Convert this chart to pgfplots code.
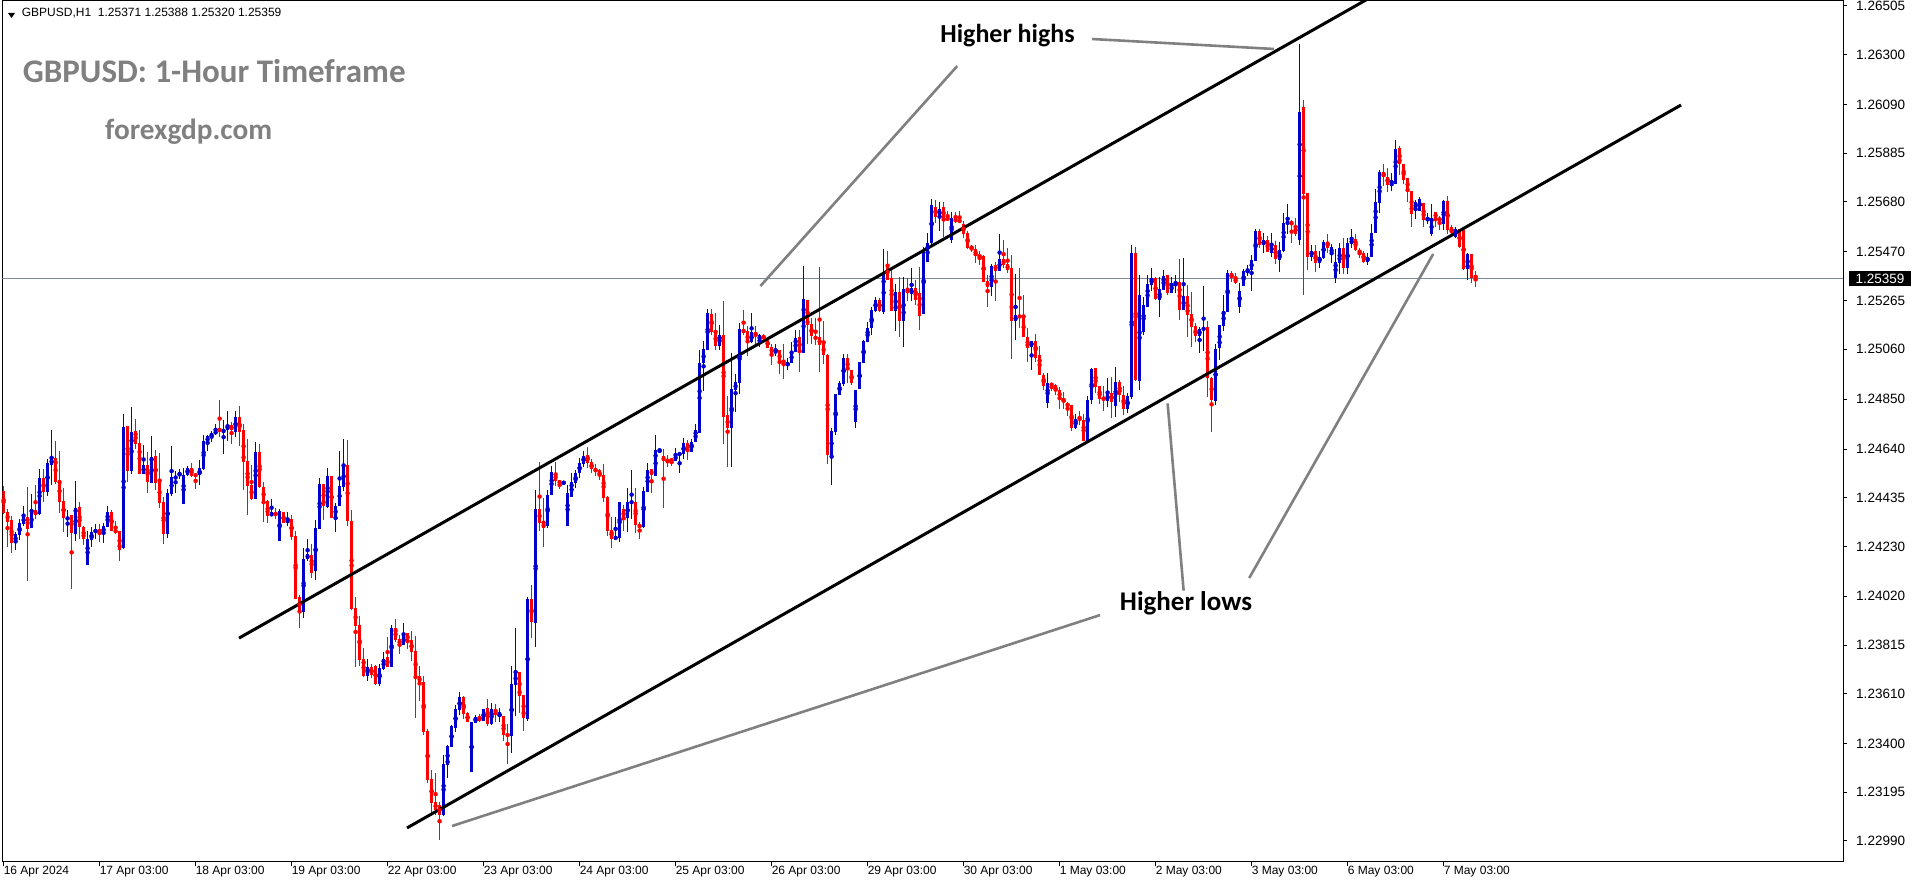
\documentclass[border=0pt]{standalone}
\usepackage{pgfplots}
\usepackage{pgfplotstable}
\pgfplotsset{compat=1.18}
\usepackage{fontspec}
\setmainfont{Liberation Sans}
\newfontfamily\carlito{Carlito}
\definecolor{cbull}{HTML}{0000CD}
\definecolor{cbear}{HTML}{FF0000}
\definecolor{annot}{HTML}{808080}
\definecolor{pline}{HTML}{7B8A9A}
\pgfplotstableread{
i o h l c
0 1.24463 1.24484 1.24368 1.24372
1 1.24374 1.24386 1.24229 1.24334
2 1.24341 1.24358 1.24203 1.24245
3 1.24245 1.24290 1.24214 1.24282
4 1.24279 1.24344 1.24257 1.24327
5 1.24324 1.24404 1.24320 1.24360
6 1.24355 1.24481 1.24084 1.24304
7 1.24308 1.24450 1.24308 1.24379
8 1.24383 1.24488 1.24345 1.24362
9 1.24366 1.24555 1.24362 1.24517
10 1.24517 1.24555 1.24417 1.24459
11 1.24460 1.24599 1.24442 1.24581
12 1.24572 1.24720 1.24488 1.24606
13 1.24602 1.24673 1.24495 1.24503
14 1.24509 1.24631 1.24369 1.24418
15 1.24421 1.24475 1.24290 1.24351
16 1.24346 1.24383 1.24271 1.24353
17 1.24362 1.24362 1.24050 1.24287
18 1.24282 1.24509 1.24254 1.24391
19 1.24395 1.24417 1.24262 1.24311
20 1.24315 1.24315 1.24237 1.24262
21 1.24151 1.24294 1.24151 1.24261
22 1.24259 1.24313 1.24229 1.24294
23 1.24290 1.24327 1.24262 1.24303
24 1.24303 1.24324 1.24248 1.24290
25 1.24287 1.24332 1.24245 1.24315
26 1.24311 1.24400 1.24311 1.24374
27 1.24374 1.24383 1.24294 1.24294
28 1.24299 1.24337 1.24282 1.24290
29 1.24294 1.24294 1.24170 1.24216
30 1.24223 1.24787 1.24219 1.24736
31 1.24736 1.24736 1.24502 1.24548
32 1.24548 1.24816 1.24534 1.24715
33 1.24715 1.24766 1.24640 1.24661
34 1.24665 1.24720 1.24536 1.24536
35 1.24536 1.24656 1.24536 1.24572
36 1.24572 1.24631 1.24456 1.24502
37 1.24498 1.24694 1.24498 1.24606
38 1.24610 1.24635 1.24467 1.24498
39 1.24501 1.24623 1.24393 1.24414
40 1.24417 1.24438 1.24241 1.24283
41 1.24283 1.24473 1.24266 1.24454
42 1.24452 1.24652 1.24442 1.24522
43 1.24513 1.24547 1.24454 1.24526
44 1.24526 1.24557 1.24513 1.24543
45 1.24409 1.24560 1.24409 1.24530
46 1.24530 1.24568 1.24526 1.24560
47 1.24560 1.24581 1.24523 1.24526
48 1.24534 1.24539 1.24473 1.24526
49 1.24530 1.24593 1.24489 1.24560
50 1.24555 1.24699 1.24551 1.24673
51 1.24669 1.24699 1.24633 1.24694
52 1.24690 1.24715 1.24669 1.24707
53 1.24703 1.24745 1.24699 1.24720
54 1.24728 1.24846 1.24691 1.24711
55 1.24711 1.24762 1.24620 1.24724
56 1.24720 1.24800 1.24673 1.24741
57 1.24741 1.24753 1.24662 1.24720
58 1.24715 1.24800 1.24690 1.24778
59 1.24774 1.24821 1.24654 1.24711
60 1.24720 1.24745 1.24467 1.24586
61 1.24589 1.24682 1.24362 1.24484
62 1.24488 1.24576 1.24429 1.24429
63 1.24429 1.24669 1.24429 1.24628
64 1.24631 1.24661 1.24475 1.24480
65 1.24480 1.24501 1.24332 1.24421
66 1.24421 1.24425 1.24332 1.24358
67 1.24358 1.24429 1.24358 1.24374
68 1.24374 1.24391 1.24345 1.24362
69 1.24252 1.24387 1.24252 1.24379
70 1.24374 1.24374 1.24328 1.24328
71 1.24328 1.24374 1.24315 1.24345
72 1.24345 1.24362 1.24257 1.24269
73 1.24273 1.24294 1.24008 1.24008
74 1.24017 1.24025 1.23888 1.23955
75 1.23955 1.24223 1.23930 1.24177
76 1.24177 1.24261 1.24168 1.24198
77 1.24193 1.24240 1.24097 1.24118
78 1.24126 1.24341 1.24088 1.24311
79 1.24303 1.24517 1.24303 1.24492
80 1.24492 1.24492 1.24341 1.24400
81 1.24397 1.24560 1.24391 1.24526
82 1.24526 1.24526 1.24349 1.24353
83 1.24353 1.24412 1.24290 1.24400
84 1.24400 1.24635 1.24400 1.24484
85 1.24480 1.24682 1.24463 1.24572
86 1.24572 1.24677 1.24315 1.24337
87 1.24337 1.24383 1.23962 1.23966
88 1.23970 1.24017 1.23722 1.23895
89 1.23899 1.23937 1.23726 1.23752
90 1.23756 1.23802 1.23681 1.23684
91 1.23684 1.23756 1.23667 1.23722
92 1.23723 1.23735 1.23676 1.23689
93 1.23727 1.23731 1.23647 1.23651
94 1.23651 1.23735 1.23643 1.23718
95 1.23714 1.23786 1.23710 1.23756
96 1.23765 1.23850 1.23723 1.23723
97 1.23723 1.23899 1.23723 1.23887
98 1.23887 1.23925 1.23828 1.23836
99 1.23840 1.23857 1.23777 1.23815
100 1.23815 1.23908 1.23815 1.23862
101 1.23866 1.23866 1.23798 1.23832
102 1.23836 1.23874 1.23748 1.23786
103 1.23790 1.23853 1.23508 1.23680
104 1.23685 1.23727 1.23579 1.23655
105 1.23659 1.23685 1.23436 1.23449
106 1.23453 1.23462 1.23234 1.23247
107 1.23251 1.23289 1.23108 1.23150
108 1.23154 1.23276 1.23100 1.23121
109 1.23142 1.23154 1.22994 1.23100
110 1.23100 1.23352 1.23095 1.23314
111 1.23310 1.23394 1.23255 1.23390
112 1.23386 1.23478 1.23386 1.23474
113 1.23466 1.23563 1.23449 1.23546
114 1.23542 1.23617 1.23521 1.23596
115 1.23596 1.23600 1.23504 1.23525
116 1.23529 1.23533 1.23491 1.23495
117 1.23281 1.23491 1.23281 1.23491
118 1.23487 1.23521 1.23487 1.23512
119 1.23512 1.23525 1.23491 1.23495
120 1.23495 1.23546 1.23495 1.23546
121 1.23550 1.23588 1.23474 1.23483
122 1.23483 1.23571 1.23478 1.23546
123 1.23546 1.23567 1.23491 1.23529
124 1.23512 1.23550 1.23491 1.23533
125 1.23516 1.23516 1.23411 1.23436
126 1.23441 1.23483 1.23314 1.23432
127 1.23432 1.23727 1.23361 1.23651
128 1.23647 1.23887 1.23516 1.23702
129 1.23702 1.23702 1.23529 1.23601
130 1.23605 1.23605 1.23453 1.23508
131 1.23504 1.24017 1.23495 1.24009
132 1.24009 1.24068 1.23845 1.23912
133 1.23908 1.24468 1.23807 1.24388
134 1.24388 1.24585 1.24295 1.24329
135 1.24329 1.24434 1.24228 1.24308
136 1.24316 1.24468 1.24308 1.24446
137 1.24446 1.24569 1.24446 1.24543
138 1.24539 1.24585 1.24484 1.24505
139 1.24509 1.24509 1.24471 1.24492
140 1.24497 1.24505 1.24492 1.24501
141 1.24316 1.24488 1.24316 1.24455
142 1.24438 1.24539 1.24438 1.24501
143 1.24497 1.24551 1.24476 1.24539
144 1.24539 1.24602 1.24518 1.24585
145 1.24577 1.24631 1.24564 1.24614
146 1.24614 1.24648 1.24560 1.24581
147 1.24585 1.24598 1.24539 1.24556
148 1.24560 1.24577 1.24526 1.24543
149 1.24551 1.24556 1.24509 1.24526
150 1.24530 1.24577 1.24417 1.24434
151 1.24438 1.24442 1.24274 1.24295
152 1.24299 1.24354 1.24223 1.24261
153 1.24261 1.24354 1.24257 1.24274
154 1.24265 1.24417 1.24248 1.24417
155 1.24387 1.24404 1.24295 1.24349
156 1.24349 1.24476 1.24290 1.24417
157 1.24412 1.24551 1.24345 1.24421
158 1.24417 1.24476 1.24286 1.24320
159 1.24324 1.24333 1.24261 1.24311
160 1.24311 1.24480 1.24311 1.24463
161 1.24459 1.24581 1.24459 1.24551
162 1.24556 1.24556 1.24455 1.24530
163 1.24526 1.24699 1.24526 1.24636
164 1.24631 1.24640 1.24631 1.24636
165 1.24610 1.24640 1.24391 1.24589
166 1.24598 1.24615 1.24564 1.24585
167 1.24598 1.24602 1.24568 1.24589
168 1.24589 1.24644 1.24589 1.24619
169 1.24615 1.24623 1.24539 1.24623
170 1.24619 1.24686 1.24598 1.24665
171 1.24665 1.24678 1.24593 1.24631
172 1.24631 1.24682 1.24631 1.24673
173 1.24669 1.24745 1.24669 1.24720
174 1.24711 1.25056 1.24711 1.25002
175 1.25002 1.25094 1.24884 1.25061
176 1.25056 1.25229 1.25056 1.25212
177 1.25208 1.25229 1.25120 1.25132
178 1.25136 1.25212 1.25056 1.25073
179 1.25073 1.25162 1.25056 1.25120
180 1.25120 1.25263 1.24661 1.24774
181 1.24783 1.24863 1.24564 1.24728
182 1.24728 1.25044 1.24564 1.24892
183 1.24888 1.24955 1.24796 1.24922
184 1.24918 1.25170 1.24871 1.25145
185 1.25145 1.25225 1.25120 1.25132
186 1.25137 1.25158 1.25031 1.25086
187 1.25090 1.25212 1.25086 1.25132
188 1.25128 1.25158 1.25086 1.25125
189 1.25099 1.25124 1.25069 1.25120
190 1.25115 1.25124 1.25099 1.25107
191 1.25103 1.25103 1.25065 1.25065
192 1.25069 1.25082 1.24993 1.25044
193 1.25044 1.25082 1.25031 1.25057
194 1.25057 1.25057 1.24956 1.25006
195 1.25006 1.25082 1.24935 1.24989
196 1.24989 1.25023 1.24972 1.25006
197 1.25002 1.25090 1.25002 1.25052
198 1.25048 1.25141 1.25048 1.25107
199 1.25111 1.25141 1.24964 1.25048
200 1.25044 1.25410 1.25044 1.25271
201 1.25267 1.25267 1.25082 1.25162
202 1.25166 1.25191 1.25082 1.25115
203 1.25115 1.25191 1.25078 1.25103
204 1.25111 1.25406 1.24964 1.25078
205 1.25082 1.25179 1.24998 1.25036
206 1.25036 1.25040 1.24577 1.24615
207 1.24615 1.24728 1.24488 1.24716
208 1.24711 1.24871 1.24699 1.24871
209 1.24867 1.24926 1.24867 1.24918
210 1.24913 1.25040 1.24905 1.25023
211 1.25023 1.25040 1.24918 1.24972
212 1.24972 1.24972 1.24909 1.24918
213 1.24753 1.24888 1.24728 1.24888
214 1.24892 1.25006 1.24892 1.25006
215 1.25002 1.25099 1.25002 1.25094
216 1.25090 1.25174 1.25090 1.25153
217 1.25149 1.25238 1.25120 1.25225
218 1.25221 1.25280 1.25217 1.25267
219 1.25267 1.25275 1.25217 1.25221
220 1.25217 1.25482 1.25208 1.25381
221 1.25419 1.25473 1.25351 1.25351
222 1.25360 1.25393 1.25221 1.25221
223 1.25221 1.25334 1.25137 1.25301
224 1.25301 1.25364 1.25115 1.25179
225 1.25179 1.25364 1.25069 1.25313
226 1.25313 1.25360 1.25263 1.25296
227 1.25292 1.25402 1.25263 1.25318
228 1.25318 1.25355 1.25246 1.25267
229 1.25296 1.25406 1.25141 1.25200
230 1.25208 1.25490 1.25208 1.25477
231 1.25429 1.25548 1.25429 1.25506
232 1.25506 1.25693 1.25490 1.25667
233 1.25660 1.25690 1.25590 1.25618
234 1.25620 1.25680 1.25558 1.25650
235 1.25660 1.25680 1.25534 1.25608
236 1.25615 1.25640 1.25600 1.25604
237 1.25520 1.25640 1.25510 1.25611
238 1.25611 1.25640 1.25594 1.25597
239 1.25604 1.25640 1.25590 1.25597
240 1.25590 1.25600 1.25530 1.25548
241 1.25548 1.25558 1.25485 1.25485
242 1.25492 1.25499 1.25471 1.25485
243 1.25485 1.25499 1.25422 1.25454
244 1.25457 1.25473 1.25415 1.25448
245 1.25454 1.25459 1.25344 1.25344
246 1.25347 1.25372 1.25239 1.25322
247 1.25322 1.25419 1.25284 1.25412
248 1.25415 1.25429 1.25263 1.25391
249 1.25391 1.25545 1.25391 1.25440
250 1.25440 1.25520 1.25401 1.25416
251 1.25419 1.25485 1.25382 1.25395
252 1.25403 1.25459 1.25019 1.25179
253 1.25179 1.25377 1.25099 1.25204
254 1.25204 1.25403 1.25151 1.25193
255 1.25196 1.25288 1.25111 1.25111
256 1.25111 1.25148 1.25008 1.25067
257 1.25069 1.25097 1.24973 1.25097
258 1.25095 1.25124 1.25008 1.25025
259 1.25036 1.25074 1.24952 1.24952
260 1.24954 1.24960 1.24888 1.24907
261 1.24834 1.24960 1.24813 1.24918
262 1.24918 1.24918 1.24884 1.24905
263 1.24909 1.24915 1.24867 1.24884
264 1.24890 1.24901 1.24808 1.24851
265 1.24855 1.24879 1.24808 1.24837
266 1.24837 1.24839 1.24780 1.24818
267 1.24825 1.24825 1.24717 1.24730
268 1.24730 1.24787 1.24727 1.24769
269 1.24771 1.24803 1.24741 1.24764
270 1.24762 1.24787 1.24674 1.24674
271 1.24674 1.24863 1.24671 1.24846
272 1.24846 1.24980 1.24828 1.24977
273 1.24980 1.24980 1.24874 1.24902
274 1.24907 1.24907 1.24832 1.24851
275 1.24856 1.24906 1.24798 1.24849
276 1.24844 1.24938 1.24819 1.24875
277 1.24875 1.24945 1.24770 1.24840
278 1.24823 1.24987 1.24777 1.24924
279 1.24924 1.24931 1.24840 1.24868
280 1.24868 1.24906 1.24784 1.24807
281 1.24809 1.24875 1.24791 1.24864
282 1.24861 1.25499 1.24849 1.25467
283 1.25467 1.25492 1.24928 1.24931
284 1.24928 1.25373 1.24889 1.25289
285 1.25134 1.25282 1.25120 1.25247
286 1.25240 1.25373 1.25240 1.25335
287 1.25331 1.25402 1.25305 1.25360
288 1.25360 1.25366 1.25268 1.25273
289 1.25270 1.25366 1.25197 1.25315
290 1.25312 1.25394 1.25312 1.25371
291 1.25371 1.25371 1.25291 1.25298
292 1.25298 1.25366 1.25296 1.25338
293 1.25335 1.25371 1.25296 1.25343
294 1.25342 1.25439 1.25183 1.25226
295 1.25226 1.25443 1.25226 1.25284
296 1.25284 1.25331 1.25113 1.25204
297 1.25209 1.25303 1.25071 1.25155
298 1.25158 1.25169 1.25092 1.25116
299 1.25116 1.25155 1.25046 1.25146
300 1.25144 1.25327 1.25054 1.25151
301 1.25154 1.25179 1.24861 1.24938
302 1.24938 1.24945 1.24713 1.24847
303 1.24844 1.25085 1.24826 1.25064
304 1.25064 1.25162 1.25015 1.25162
305 1.25158 1.25289 1.25137 1.25221
306 1.25218 1.25394 1.25218 1.25383
307 1.25383 1.25391 1.25345 1.25360
308 1.25360 1.25383 1.25335 1.25341
309 1.25238 1.25338 1.25214 1.25307
310 1.25327 1.25400 1.25327 1.25388
311 1.25383 1.25418 1.25369 1.25395
312 1.25391 1.25457 1.25307 1.25436
313 1.25433 1.25568 1.25433 1.25558
314 1.25558 1.25568 1.25485 1.25499
315 1.25499 1.25551 1.25467 1.25523
316 1.25520 1.25537 1.25471 1.25471
317 1.25467 1.25551 1.25450 1.25499
318 1.25499 1.25517 1.25419 1.25439
319 1.25436 1.25513 1.25387 1.25478
320 1.25475 1.25632 1.25471 1.25593
321 1.25587 1.25674 1.25545 1.25600
322 1.25600 1.25604 1.25509 1.25583
323 1.25579 1.25615 1.25537 1.25545
324 1.25520 1.26345 1.25500 1.26060
325 1.26080 1.26110 1.25289 1.25717
326 1.25717 1.25717 1.25394 1.25450
327 1.25450 1.25499 1.25430 1.25475
328 1.25475 1.25499 1.25387 1.25425
329 1.25425 1.25475 1.25401 1.25450
330 1.25443 1.25523 1.25439 1.25513
331 1.25513 1.25545 1.25467 1.25485
332 1.25461 1.25503 1.25425 1.25489
333 1.25359 1.25485 1.25341 1.25429
334 1.25425 1.25506 1.25377 1.25485
335 1.25485 1.25531 1.25377 1.25401
336 1.25401 1.25531 1.25377 1.25506
337 1.25503 1.25565 1.25485 1.25523
338 1.25523 1.25545 1.25475 1.25478
339 1.25478 1.25485 1.25443 1.25467
340 1.25467 1.25475 1.25425 1.25429
341 1.25429 1.25464 1.25415 1.25447
342 1.25450 1.25587 1.25450 1.25551
343 1.25551 1.25733 1.25548 1.25681
344 1.25677 1.25817 1.25635 1.25808
345 1.25808 1.25840 1.25747 1.25787
346 1.25787 1.25822 1.25723 1.25752
347 1.25752 1.25803 1.25728 1.25761
348 1.25756 1.25941 1.25756 1.25906
349 1.25906 1.25916 1.25794 1.25840
350 1.25840 1.25840 1.25756 1.25775
351 1.25780 1.25780 1.25681 1.25728
352 1.25728 1.25728 1.25576 1.25632
353 1.25649 1.25691 1.25611 1.25681
354 1.25643 1.25700 1.25643 1.25691
355 1.25677 1.25677 1.25576 1.25604
356 1.25601 1.25632 1.25587 1.25615
357 1.25548 1.25672 1.25537 1.25604
358 1.25639 1.25639 1.25576 1.25607
359 1.25615 1.25621 1.25565 1.25601
360 1.25587 1.25691 1.25565 1.25686
361 1.25686 1.25705 1.25545 1.25562
362 1.25576 1.25583 1.25531 1.25548
363 1.25534 1.25576 1.25527 1.25565
364 1.25565 1.25569 1.25489 1.25492
365 1.25565 1.25565 1.25394 1.25397
366 1.25397 1.25467 1.25352 1.25461
367 1.25461 1.25461 1.25341 1.25359
368 1.25371 1.25388 1.25320 1.25359
}\candles
\begin{document}
\begin{tikzpicture}
\useasboundingbox (0,0) rectangle (1916bp,884bp);
\begin{axis}[
  at={(2.3bp,22bp)}, anchor=south west,
  scale only axis, width=1840.7bp, height=861bp,
  xmin=-0.325, xmax=459.85, ymin=1.229016, ymax=1.265260,
  axis line style={line width=1bp, black},
  tick style={line width=1bp, black},
  tick align=outside, major tick length=4bp,
  xtick pos=left, ytick pos=right, yticklabel pos=right,
  xtick={0,24,48,72,96,120,144,168,192,216,240,264,288,312,336,360},
  xticklabels={16 Apr 2024,17 Apr 03:00,18 Apr 03:00,19 Apr 03:00,22 Apr 03:00,23 Apr 03:00,24 Apr 03:00,25 Apr 03:00,26 Apr 03:00,29 Apr 03:00,30 Apr 03:00,1 May 03:00,2 May 03:00,3 May 03:00,6 May 03:00,7 May 03:00},
  xticklabel style={anchor=north west, inner sep=0pt, font=\fontsize{12bp}{14bp}\selectfont},
  ytick={1.22990,1.23195,1.23400,1.23610,1.23815,1.24020,1.24230,1.24435,1.24640,1.24850,1.25060,1.25265,1.25470,1.25680,1.25885,1.26090,1.26300,1.26505},
  yticklabels={1.22990,1.23195,1.23400,1.23610,1.23815,1.24020,1.24230,1.24435,1.24640,1.24850,1.25060,1.25265,1.25470,1.25680,1.25885,1.26090,1.26300,1.26505},
  yticklabel style={anchor=west, inner sep=0pt, xshift=9bp, font=\fontsize{13.5bp}{15bp}\selectfont},
  scaled y ticks=false,
]
% current price line
\addplot[pline, line width=1bp, forget plot] coordinates {(-1,1.25359) (470,1.25359)};
% wicks
\addplot[only marks, mark=none, cbull, forget plot, restrict y to domain=1:2,
  error bars/.cd, y dir=both, y explicit, error mark=none,
  error bar style={line width=1.1bp, cbull}]
  table[x=i, y expr={\thisrow{c}<\thisrow{o} ? 0 : (\thisrow{h}+\thisrow{l})/2},
        y error expr={(\thisrow{h}-\thisrow{l})/2}] \candles;
\addplot[only marks, mark=none, cbear, forget plot, restrict y to domain=1:2,
  error bars/.cd, y dir=both, y explicit, error mark=none,
  error bar style={line width=1.1bp, cbear}]
  table[x=i, y expr={\thisrow{c}<\thisrow{o} ? (\thisrow{h}+\thisrow{l})/2 : 0},
        y error expr={(\thisrow{h}-\thisrow{l})/2}] \candles;
% bodies
\addplot[only marks, mark=none, cbull, forget plot, restrict y to domain=1:2,
  error bars/.cd, y dir=both, y explicit, error mark=none,
  error bar style={line width=3.3bp, cbull}]
  table[x=i, y expr={\thisrow{c}<\thisrow{o} ? 0 : (\thisrow{o}+\thisrow{c})/2},
        y error expr={max(abs(\thisrow{c}-\thisrow{o})/2,0.00001)}] \candles;
\addplot[only marks, mark=none, cbear, forget plot, restrict y to domain=1:2,
  error bars/.cd, y dir=both, y explicit, error mark=none,
  error bar style={line width=3.3bp, cbear}]
  table[x=i, y expr={\thisrow{c}<\thisrow{o} ? (\thisrow{o}+\thisrow{c})/2 : 0},
        y error expr={max(abs(\thisrow{c}-\thisrow{o})/2,0.00001)}] \candles;
% channel lines
\addplot[black, line width=3bp, forget plot] coordinates {(58.85,1.23844) (350,1.26620)};
\addplot[black, line width=3bp, forget plot] coordinates {(100.85,1.23045) (419.35,1.26088)};
% annotation pointers
\addplot[annot, line width=2.6bp, forget plot] coordinates {(272.1,1.26366) (317.6,1.26324)};
\addplot[annot, line width=2.6bp, forget plot] coordinates {(238.4,1.26252) (189.2,1.25326)};
\addplot[annot, line width=2.6bp, forget plot] coordinates {(291.0,1.24832) (295.0,1.24044)};
\addplot[annot, line width=2.6bp, forget plot] coordinates {(311.4,1.24097) (357.4,1.25461)};
\addplot[annot, line width=2.6bp, forget plot] coordinates {(274.1,1.23941) (112.1,1.23053)};
\end{axis}
% header
\fill[black] (8bp,871bp) -- (15bp,871bp) -- (11.5bp,866bp) -- cycle;
\node[anchor=base west, inner sep=0pt, font=\fontsize{12bp}{14bp}\selectfont] at (21.7bp,867bp) {GBPUSD,H1\ \ 1.25371 1.25388 1.25320 1.25359};
% titles
\node[anchor=base west, inner sep=0pt, text=annot, font=\carlito\bfseries\fontsize{33bp}{37bp}\selectfont] at (22.7bp,801bp) {GBPUSD: 1-Hour Timeframe};
\node[anchor=base west, inner sep=0pt, text=annot, font=\carlito\bfseries\fontsize{29.3bp}{34bp}\selectfont] at (105bp,744bp) {forexgdp.com};
\node[anchor=base, inner sep=0pt, font=\carlito\bfseries\fontsize{26bp}{30bp}\selectfont] at (1007.5bp,841bp) {Higher highs};
\node[anchor=base, inner sep=0pt, font=\carlito\bfseries\fontsize{27bp}{30bp}\selectfont] at (1186bp,273bp) {Higher lows};
% current price tag
\node[fill=black, text=white, minimum width=62bp, minimum height=15bp, inner sep=0pt, font=\fontsize{13.5bp}{15bp}\selectfont] at (1880bp,605bp) {1.25359};
\end{tikzpicture}
\end{document}
